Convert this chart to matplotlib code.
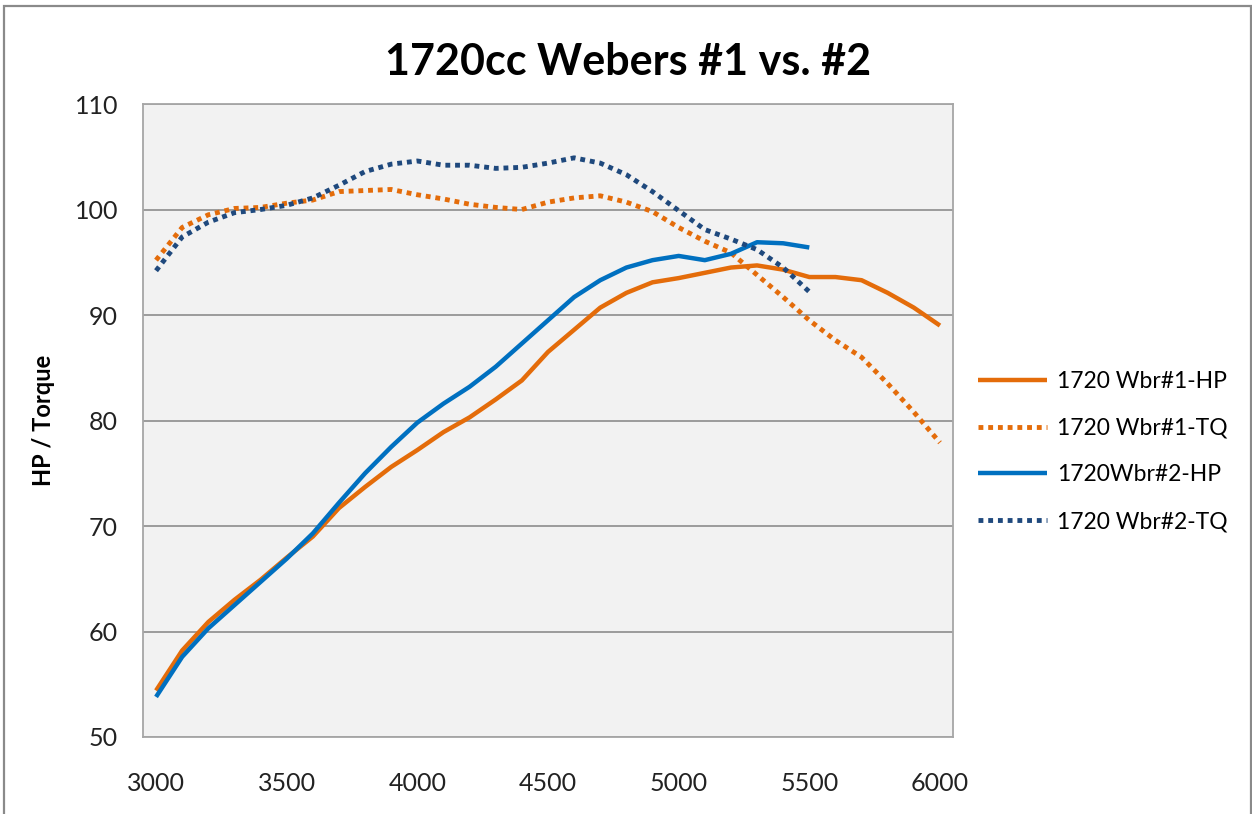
import matplotlib.pyplot as plt
from matplotlib.patches import Rectangle

plt.rcParams['font.family'] = ['Lato', 'DejaVu Sans']

# rpm steps of 100
rpm = list(range(3000, 6001, 100))

hp1 = [54.4, 58.2, 60.9, 63.0, 64.9, 67.0, 69.0, 71.7, 73.7, 75.6, 77.2,
       78.9, 80.3, 82.0, 83.8, 86.5, 88.6, 90.7, 92.1, 93.1, 93.5,
       94.0, 94.5, 94.7, 94.3, 93.6, 93.6, 93.3, 92.1, 90.7, 89.0]
tq1 = [95.2, 98.3, 99.5, 100.1, 100.2, 100.6, 100.9, 101.7, 101.8, 101.9, 101.4,
       101.0, 100.5, 100.2, 100.0, 100.7, 101.1, 101.3, 100.7, 99.8, 98.3,
       97.0, 95.9, 93.8, 91.7, 89.5, 87.6, 86.0, 83.5, 80.8, 77.9]
# run #2 stops at 5500
hp2 = [53.8, 57.6, 60.3, 62.5, 64.7, 66.9, 69.3, 72.2, 75.0, 77.5, 79.8,
       81.6, 83.2, 85.1, 87.3, 89.5, 91.7, 93.3, 94.5, 95.2, 95.6,
       95.2, 95.8, 96.9, 96.8, 96.4]
tq2 = [94.2, 97.4, 98.8, 99.7, 100.0, 100.4, 101.1, 102.3, 103.6, 104.3, 104.6,
       104.2, 104.2, 103.9, 104.0, 104.4, 104.9, 104.4, 103.3, 101.7, 99.9,
       98.1, 97.2, 96.2, 94.5, 92.2]

labels = ["1720 Wbr#1-HP", "1720 Wbr#1-TQ", "1720Wbr#2-HP", "1720 Wbr#2-TQ"]

orange = "#E46C0A"
blue = "#0070C0"
navy = "#1F497D"

fig = plt.figure(figsize=(12.52, 8.14), dpi=100)
ax = fig.add_axes([0.1142, 0.0946, 0.647, 0.7776])
ax.set_facecolor("#F2F2F2")

ax.plot(rpm, hp1, color=orange, lw=3.2, solid_capstyle='butt', label=labels[0])
ax.plot(rpm, tq1, color=orange, lw=3.5, linestyle=(0, (1, 1)),
        dash_capstyle='butt', label=labels[1])
ax.plot(rpm[:len(hp2)], hp2, color=blue, lw=3.2, solid_capstyle='butt', label=labels[2])
ax.plot(rpm[:len(tq2)], tq2, color=navy, lw=3.5, linestyle=(0, (1, 1)),
        dash_capstyle='butt', label=labels[3])

ax.set_xlim(2950, 6050)
ax.set_ylim(50, 110)
ax.set_xticks(range(3000, 6001, 500))
ax.set_yticks(range(50, 111, 10))
ax.tick_params(length=0, labelsize=18, colors="#222222")
ax.tick_params(axis='y', pad=18)
ax.tick_params(axis='x', pad=25)
ax.grid(axis='y', color="#8C8C8C", lw=1.2)
ax.set_axisbelow(True)
for s in ax.spines.values():
    s.set_color("#A6A6A6")
    s.set_linewidth(1.3)

ax.set_ylabel("HP / Torque", fontsize=17, fontweight='bold', labelpad=14)
fig.text(0.502, 0.924, "1720cc Webers #1 vs. #2", ha='center', va='center',
         fontsize=31, fontweight='bold')

fig.legend(loc='center left', bbox_to_anchor=(0.781, 0.4453), frameon=False,
           fontsize=16.5, handlelength=3.0, handletextpad=0.45, labelspacing=1.12,
           borderpad=0, borderaxespad=0)

fig.patches.append(Rectangle((0.0032, -0.02), 0.996, 1.0126, transform=fig.transFigure,
                             fill=False, edgecolor="#8A8A8A", lw=1.6))

fig.savefig("out.png", dpi=100)
